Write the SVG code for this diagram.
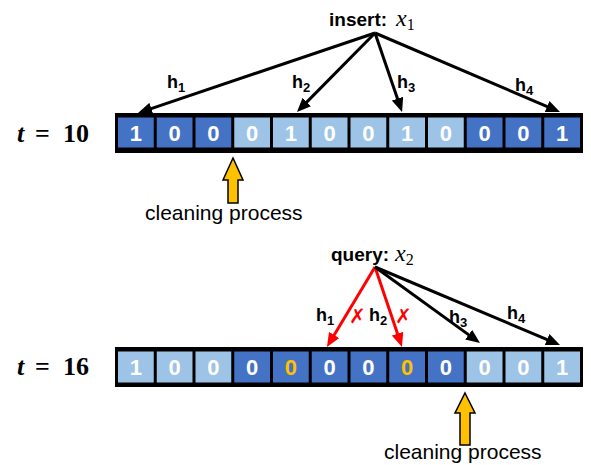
<svg xmlns="http://www.w3.org/2000/svg" width="591" height="465" viewBox="0 0 591 465">
<style>
.bg{fill:#000}
.d{fill:#4472C4}
.l{fill:#9DC3E6}
.v{font-family:"Liberation Sans",Arial,sans-serif;font-weight:bold;font-size:22px;fill:#fff;text-anchor:middle}
.o{fill:#FFC000}
.lab{font-family:"Liberation Sans",Arial,sans-serif;font-weight:bold;font-size:18px;fill:#000}
.big{font-size:19px}
.sub{font-size:13px}
.math{font-family:"Liberation Serif","Times New Roman",serif;font-style:italic;font-size:24px;fill:#000}
.msub{font-style:normal;font-size:16px}
.tl{font-family:"Liberation Serif","Times New Roman",serif;font-weight:bold;font-size:26px;fill:#000}
.cp{font-family:"Liberation Sans",Arial,sans-serif;font-size:21px;fill:#000}
.ca{fill:#FFC000;stroke:#000;stroke-width:1.5;stroke-linejoin:miter}
.k{stroke:#000;stroke-width:3;fill:none;marker-end:url(#ak)}
.r{stroke:#FF0000;stroke-width:3;fill:none;marker-end:url(#ar)}
.x{font-family:"DejaVu Sans",sans-serif;font-size:20px;fill:#FF0000}
</style>
<defs>
<marker id="ak" viewBox="0 0 14 12" markerWidth="14" markerHeight="12" refX="4" refY="6" orient="auto" markerUnits="userSpaceOnUse"><path d="M0,0 L14,6 L0,12 z" fill="#000"/></marker>
<marker id="ar" viewBox="0 0 14 12" markerWidth="14" markerHeight="12" refX="4" refY="6" orient="auto" markerUnits="userSpaceOnUse"><path d="M0,0 L14,6 L0,12 z" fill="#FF0000"/></marker>
</defs>

<g id="t10"><text class="tl" x="17" y="142"><tspan font-style="italic">t</tspan><tspan x="35">=</tspan><tspan x="63">10</tspan></text></g>
<g id="t16"><text class="tl" x="17" y="375"><tspan font-style="italic">t</tspan><tspan x="35">=</tspan><tspan x="63">16</tspan></text></g>

<g id="array-t10">
<rect class="bg" x="115" y="113" width="468" height="40"/>
<g id="a1c0"><rect class="d" x="118" y="117.5" width="35.75" height="30"/><text class="v" x="135.9" y="140.5">1</text></g>
<g id="a1c1"><rect class="d" x="156.75" y="117.5" width="35.75" height="30"/><text class="v" x="174.6" y="140.5">0</text></g>
<g id="a1c2"><rect class="d" x="195.5" y="117.5" width="35.75" height="30"/><text class="v" x="213.4" y="140.5">0</text></g>
<g id="a1c3"><rect class="l" x="234.25" y="117.5" width="35.75" height="30"/><text class="v" x="252.1" y="140.5">0</text></g>
<g id="a1c4"><rect class="l" x="273" y="117.5" width="35.75" height="30"/><text class="v" x="290.9" y="140.5">1</text></g>
<g id="a1c5"><rect class="l" x="311.75" y="117.5" width="35.75" height="30"/><text class="v" x="329.6" y="140.5">0</text></g>
<g id="a1c6"><rect class="l" x="350.5" y="117.5" width="35.75" height="30"/><text class="v" x="368.4" y="140.5">0</text></g>
<g id="a1c7"><rect class="l" x="389.25" y="117.5" width="35.75" height="30"/><text class="v" x="407.1" y="140.5">1</text></g>
<g id="a1c8"><rect class="l" x="428" y="117.5" width="35.75" height="30"/><text class="v" x="445.9" y="140.5">0</text></g>
<g id="a1c9"><rect class="d" x="466.75" y="117.5" width="35.75" height="30"/><text class="v" x="484.6" y="140.5">0</text></g>
<g id="a1c10"><rect class="d" x="505.5" y="117.5" width="35.75" height="30"/><text class="v" x="523.4" y="140.5">0</text></g>
<g id="a1c11"><rect class="d" x="544.25" y="117.5" width="35.75" height="30"/><text class="v" x="562.1" y="140.5">1</text></g>
</g>

<g id="array-t16">
<rect class="bg" x="115" y="347" width="468" height="40"/>
<g id="a2c0"><rect class="l" x="118" y="351.5" width="35.75" height="31"/><text class="v" x="135.9" y="375">1</text></g>
<g id="a2c1"><rect class="l" x="156.75" y="351.5" width="35.75" height="31"/><text class="v" x="174.6" y="375">0</text></g>
<g id="a2c2"><rect class="l" x="195.5" y="351.5" width="35.75" height="31"/><text class="v" x="213.4" y="375">0</text></g>
<g id="a2c3"><rect class="d" x="234.25" y="351.5" width="35.75" height="31"/><text class="v" x="252.1" y="375">0</text></g>
<g id="a2c4"><rect class="d" x="273" y="351.5" width="35.75" height="31"/><text class="v o" x="290.9" y="375">0</text></g>
<g id="a2c5"><rect class="d" x="311.75" y="351.5" width="35.75" height="31"/><text class="v" x="329.6" y="375">0</text></g>
<g id="a2c6"><rect class="d" x="350.5" y="351.5" width="35.75" height="31"/><text class="v" x="368.4" y="375">0</text></g>
<g id="a2c7"><rect class="d" x="389.25" y="351.5" width="35.75" height="31"/><text class="v o" x="407.1" y="375">0</text></g>
<g id="a2c8"><rect class="d" x="428" y="351.5" width="35.75" height="31"/><text class="v" x="445.9" y="375">0</text></g>
<g id="a2c9"><rect class="l" x="466.75" y="351.5" width="35.75" height="31"/><text class="v" x="484.6" y="375">0</text></g>
<g id="a2c10"><rect class="l" x="505.5" y="351.5" width="35.75" height="31"/><text class="v" x="523.4" y="375">0</text></g>
<g id="a2c11"><rect class="l" x="544.25" y="351.5" width="35.75" height="31"/><text class="v" x="562.1" y="375">1</text></g>
</g>

<g id="insert">
<text class="lab big" x="329" y="26">insert:</text>
<text class="math" x="396" y="26">x<tspan class="msub" dy="4">1</tspan></text>
</g>
<g id="query">
<text class="lab big" x="331" y="261">query:</text>
<text class="math" x="395" y="261">x<tspan class="msub" dy="4">2</tspan></text>
</g>

<g id="connectors">
<line class="k" x1="375" y1="33" x2="147.5" y2="109.8"/>
<line class="k" x1="375" y1="33" x2="304" y2="104.9"/>
<line class="k" x1="375" y1="33" x2="398.8" y2="102.5"/>
<line class="k" x1="375" y1="33" x2="550.8" y2="108.1"/>
<line class="r" x1="375" y1="267" x2="332.1" y2="338.4"/>
<line class="r" x1="375" y1="267" x2="398.8" y2="337.5"/>
<line class="k" x1="375" y1="267" x2="471.9" y2="337.1"/>
<line class="k" x1="375" y1="267" x2="550.8" y2="341.1"/>
</g>

<g id="hash-labels">
<text class="lab" x="167" y="88">h<tspan class="sub" dy="4">1</tspan></text>
<text class="lab" x="292" y="88">h<tspan class="sub" dy="4">2</tspan></text>
<text class="lab" x="397" y="88">h<tspan class="sub" dy="4">3</tspan></text>
<text class="lab" x="515" y="91">h<tspan class="sub" dy="4">4</tspan></text>
<text class="lab" x="316" y="321">h<tspan class="sub" dy="4">1</tspan></text>
<text class="lab" x="369" y="321">h<tspan class="sub" dy="4">2</tspan></text>
<text class="lab" x="449" y="323">h<tspan class="sub" dy="4">3</tspan></text>
<text class="lab" x="507" y="319">h<tspan class="sub" dy="4">4</tspan></text>
<text class="x" x="349" y="323">✗</text>
<text class="x" x="395" y="323">✗</text>
</g>

<g id="cleaning-t10">
<polygon class="ca" points="233,158 243,180 238,180 238,203 228,203 228,180 223,180"/>
<text class="cp" x="145" y="220">cleaning process</text>
</g>
<g id="cleaning-t16">
<polygon class="ca" points="465,393 475,413 470,413 470,445 460,445 460,413 455,413"/>
<text class="cp" x="384" y="459">cleaning process</text>
</g>
</svg>
